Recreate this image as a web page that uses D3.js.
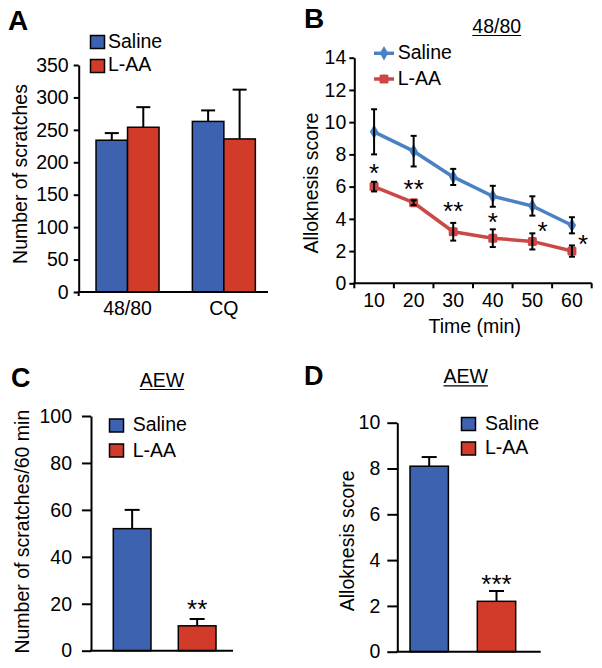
<!DOCTYPE html>
<html>
<head>
<meta charset="utf-8">
<script src="https://cdn.jsdelivr.net/npm/d3@7"></script>
<style>
  html, body { margin: 0; padding: 0; background: #fff; }
  svg { display: block; font-family: "Liberation Sans", Arial, sans-serif; }
  text { fill: #000; }
</style>
</head>
<body>
<svg id="chart" width="602" height="668"></svg>
<script>
// ---------- DATA ----------
const seriesNames = ["Saline", "L-AA"];

// Panel A
const aCategories = ["48/80", "CQ"];
const aSaline = [234, 263];
const aSalineErr = [11, 17];
const aLAA = [254, 236];
const aLAAErr = [31, 76];
const aTicks = [0, 50, 100, 150, 200, 250, 300, 350];

// Panel B
const bTimes = ["10", "20", "30", "40", "50", "60"];
const bSaline = [9.4, 8.2, 6.6, 5.4, 4.8, 3.6];
const bSalineErr = [1.4, 0.95, 0.5, 0.65, 0.6, 0.5];
const bLAA = [6.0, 5.0, 3.2, 2.8, 2.6, 2.0];
const bLAAErr = [0.3, 0.15, 0.55, 0.55, 0.5, 0.35];
const bSig = ["*", "**", "**", "*", "*", "*"];
const bSigAt = [7.2, 6.2, 4.85, 4.15, 3.6, 2.8];
const bTicks = [0, 2, 4, 6, 8, 10, 12, 14];

// Panel C
const cValues = [52, 10.6];
const cErr = [8, 2.9];
const cSig = ["", "**"];
const cTicks = [0, 20, 40, 60, 80, 100];

// Panel D
const dValues = [8.1, 2.2];
const dErr = [0.4, 0.45];
const dSig = ["", "***"];
const dTicks = [0, 2, 4, 6, 8, 10];

// ---------- STYLE ----------
const BAR_BLUE = "#3d62b0";
const BAR_RED = "#d23b2a";
const LINE_BLUE = "#4a80c4";
const LINE_RED = "#cc4846";
const FS = 19.5;
const SIG_FS = 26;

const svg = d3.select("#chart");

function panelLetter(t, x, y, size) {
  svg.append("text").attr("x", x).attr("y", y).attr("font-size", size)
    .attr("font-weight", "bold").text(t);
}
function underlinedTitle(t, cx, y) {
  const tx = svg.append("text").attr("x", cx).attr("y", y).attr("text-anchor", "middle")
    .attr("font-size", FS).text(t);
  const w = tx.node().getComputedTextLength();
  svg.append("line").attr("x1", cx - w / 2).attr("x2", cx + w / 2)
    .attr("y1", y + 2.5).attr("y2", y + 2.5).attr("stroke", "#000").attr("stroke-width", 1.2);
}
function yTitle(t, x, cy) {
  svg.append("text").attr("transform", `translate(${x},${cy}) rotate(-90)`)
    .attr("text-anchor", "middle").attr("font-size", FS).text(t);
}
function sigText(t, x, cy) {
  svg.append("text").attr("x", x).attr("y", cy + 0.56 * SIG_FS).attr("text-anchor", "middle")
    .attr("font-size", SIG_FS).text(t);
}
function styleAxis(g, fs) {
  g.selectAll("path.domain").attr("stroke", "#000").attr("stroke-width", 2);
  g.selectAll(".tick line").attr("stroke", "#000").attr("stroke-width", 2);
  g.selectAll(".tick text").attr("font-size", fs).attr("fill", "#000")
    .attr("font-family", "Liberation Sans, Arial, sans-serif");
}
function legendBox(x, y, color, label, tx, ty) {
  svg.append("rect").attr("x", x).attr("y", y).attr("width", 14).attr("height", 13)
    .attr("fill", color).attr("stroke", "#000").attr("stroke-width", 1.5);
  svg.append("text").attr("x", tx).attr("y", ty).attr("font-size", FS).text(label);
}
function errUp(g, x, yTop, yBase, capW) {
  g.append("line").attr("x1", x).attr("x2", x).attr("y1", yBase).attr("y2", yTop)
    .attr("stroke", "#000").attr("stroke-width", 2);
  g.append("line").attr("x1", x - capW / 2).attr("x2", x + capW / 2).attr("y1", yTop).attr("y2", yTop)
    .attr("stroke", "#000").attr("stroke-width", 2);
}

// ================= PANEL A =================
(function () {
  const y = d3.scaleLinear().domain([0, 350]).range([292, 65]);
  const x0 = d3.scaleBand().domain(aCategories).range([78.7, 272.7]).paddingInner(0.346).paddingOuter(0.18);
  const x1 = d3.scaleBand().domain(seriesNames).range([0, x0.bandwidth()]);
  const vals = [aSaline, aLAA], errs = [aSalineErr, aLAAErr], cols = [BAR_BLUE, BAR_RED];
  const g = svg.append("g");
  aCategories.forEach((c, i) => {
    seriesNames.forEach((s, j) => {
      const bx = x0(c) + x1(s);
      errUp(g, bx + x1.bandwidth() / 2, y(vals[j][i] + errs[j][i]), y(vals[j][i]), 14);
    });
  });
  aCategories.forEach((c, i) => {
    seriesNames.forEach((s, j) => {
      g.append("rect").attr("x", x0(c) + x1(s)).attr("y", y(vals[j][i]))
        .attr("width", x1.bandwidth()).attr("height", y(0) - y(vals[j][i]))
        .attr("fill", cols[j]).attr("stroke", "#000").attr("stroke-width", 1.5);
    });
  });
  const ya = svg.append("g").attr("transform", "translate(78.7,0)")
    .call(d3.axisLeft(y).tickValues(aTicks).tickSize(5).tickSizeOuter(0).tickPadding(5));
  styleAxis(ya, FS);
  svg.append("line").attr("x1", 78.7).attr("x2", 78.7).attr("y1", 292).attr("y2", 296)
    .attr("stroke", "#000").attr("stroke-width", 2);
  svg.append("line").attr("x1", 77.7).attr("x2", 268).attr("y1", 292).attr("y2", 292)
    .attr("stroke", "#000").attr("stroke-width", 2);
  aCategories.forEach(c => {
    svg.append("text").attr("x", x0(c) + x0.bandwidth() / 2).attr("y", 315)
      .attr("text-anchor", "middle").attr("font-size", FS).text(c);
  });
  yTitle("Number of scratches", 26.5, 174);
  legendBox(90.5, 35.5, BAR_BLUE, seriesNames[0], 108, 47.5);
  legendBox(90.5, 59.5, BAR_RED, seriesNames[1], 108, 71);
  panelLetter("A", 8, 30, 28);
})();

// ================= PANEL B =================
(function () {
  const y = d3.scaleLinear().domain([0, 14]).range([283.3, 57.7]);
  const x = d3.scaleBand().domain(bTimes).range([354.3, 591.7]);
  const cx = d => x(d) + x.bandwidth() / 2;
  const ya = svg.append("g").attr("transform", "translate(354.3,0)")
    .call(d3.axisLeft(y).tickValues(bTicks).tickSize(5).tickSizeOuter(0).tickPadding(3));
  styleAxis(ya, FS);
  const xa = svg.append("g");
  xa.append("line").attr("x1", 353.3).attr("x2", 591.7).attr("y1", 283.3).attr("y2", 283.3)
    .attr("stroke", "#000").attr("stroke-width", 2);
  bTimes.forEach(t => {
    xa.append("line").attr("x1", x(t) + x.bandwidth()).attr("x2", x(t) + x.bandwidth())
      .attr("y1", 283.3).attr("y2", 288.3).attr("stroke", "#000").attr("stroke-width", 2);
    xa.append("text").attr("x", cx(t)).attr("y", 307.3).attr("text-anchor", "middle")
      .attr("font-size", FS).text(t);
  });
  xa.append("line").attr("x1", 354.3).attr("x2", 354.3).attr("y1", 283.3).attr("y2", 288.3)
    .attr("stroke", "#000").attr("stroke-width", 2);

  const line = d3.line().x((d, i) => cx(bTimes[i])).y(d => y(d));
  const series = [
    { v: bSaline, e: bSalineErr, c: LINE_BLUE, m: "diamond" },
    { v: bLAA, e: bLAAErr, c: LINE_RED, m: "square" }
  ];
  series.forEach(s => {
    svg.append("path").attr("d", line(s.v)).attr("fill", "none")
      .attr("stroke", s.c).attr("stroke-width", 3.5).attr("stroke-linejoin", "round");
  });
  series.forEach(s => {
    s.v.forEach((v, i) => {
      const px = cx(bTimes[i]);
      if (s.m === "diamond") {
        svg.append("path").attr("d", d3.symbol(d3.symbolDiamond, 60)())
          .attr("transform", `translate(${px},${y(v)})`).attr("fill", s.c);
      } else {
        svg.append("rect").attr("x", px - 4.5).attr("y", y(v) - 4.5).attr("width", 9).attr("height", 9)
          .attr("rx", 1.5).attr("fill", s.c);
      }
    });
  });
  series.forEach(s => {
    s.v.forEach((v, i) => {
      const px = cx(bTimes[i]);
      const y1 = y(v + s.e[i]), y2 = y(v - s.e[i]);
      svg.append("line").attr("x1", px).attr("x2", px).attr("y1", y1).attr("y2", y2)
        .attr("stroke", "#000").attr("stroke-width", 2);
      [y1, y2].forEach(yy => svg.append("line").attr("x1", px - 3).attr("x2", px + 3)
        .attr("y1", yy).attr("y2", yy).attr("stroke", "#000").attr("stroke-width", 2));
    });
  });
  const sigShift = [0, 0, 0, 0, 0.26, 0.28];
  bSig.forEach((s, i) => {
    sigText(s, cx(bTimes[i]) + sigShift[i] * x.bandwidth(), y(bSigAt[i]));
  });
  [[53.3, 59, LINE_BLUE, "diamond", seriesNames[0]], [79, 85, LINE_RED, "square", seriesNames[1]]]
    .forEach(([ly, ty, c, m, lab]) => {
      svg.append("line").attr("x1", 374).attr("x2", 394).attr("y1", ly).attr("y2", ly)
        .attr("stroke", c).attr("stroke-width", 3.5);
      if (m === "diamond") {
        svg.append("path").attr("d", d3.symbol(d3.symbolDiamond, 60)())
          .attr("transform", `translate(384,${ly})`).attr("fill", c);
      } else {
        svg.append("rect").attr("x", 379.5).attr("y", ly - 4.5).attr("width", 9).attr("height", 9)
          .attr("rx", 1.5).attr("fill", c);
      }
      svg.append("text").attr("x", 397.7).attr("y", ty).attr("font-size", FS).text(lab);
    });
  svg.append("text").attr("x", 474.7).attr("y", 333).attr("text-anchor", "middle")
    .attr("font-size", FS).text("Time (min)");
  yTitle("Alloknesis score", 318, 183);
  underlinedTitle("48/80", 496.7, 33);
  panelLetter("B", 304, 28.3, 28);
})();

// ================= PANELS C & D =================
function simpleBars(cfg) {
  const y = d3.scaleLinear().domain(cfg.domain).range(cfg.yRange);
  const x = d3.scaleBand().domain(seriesNames).range(cfg.xRange)
    .paddingInner(cfg.pi).paddingOuter(cfg.po);
  const cols = [BAR_BLUE, BAR_RED];
  const g = svg.append("g");
  seriesNames.forEach((s, i) => {
    errUp(g, x(s) + x.bandwidth() / 2, y(cfg.values[i] + cfg.err[i]), y(cfg.values[i]), 15);
  });
  seriesNames.forEach((s, i) => {
    g.append("rect").attr("x", x(s)).attr("y", y(cfg.values[i]))
      .attr("width", x.bandwidth()).attr("height", y(0) - y(cfg.values[i]))
      .attr("fill", cols[i]).attr("stroke", "#000").attr("stroke-width", 1.5);
    if (cfg.sig[i]) {
      sigText(cfg.sig[i], x(s) + x.bandwidth() / 2, y(cfg.values[i] + cfg.err[i]) - cfg.sigGap);
    }
  });
  const ya = svg.append("g").attr("transform", `translate(${cfg.xRange[0]},0)`)
    .call(d3.axisLeft(y).tickValues(cfg.ticks).tickSize(cfg.tickSize).tickSizeOuter(0).tickPadding(cfg.tickPad));
  styleAxis(ya, FS);
  svg.append("line").attr("x1", cfg.xRange[0] - 1).attr("x2", cfg.axisEnd)
    .attr("y1", cfg.yRange[0]).attr("y2", cfg.yRange[0]).attr("stroke", "#000").attr("stroke-width", 2);
}

simpleBars({
  domain: [0, 100], yRange: [650.7, 416], xRange: [91, 238.3], pi: 0.42, po: 0.343,
  values: cValues, err: cErr, sig: cSig, ticks: cTicks, tickSize: 9, tickPad: 10, axisEnd: 233, sigGap: 16
});
yTitle("Number of scratches/60 min", 29, 531.7);
legendBox(109.5, 419, BAR_BLUE, seriesNames[0], 132.7, 431);
legendBox(109.5, 444, BAR_RED, seriesNames[1], 132.7, 456.7);
underlinedTitle("AEW", 162, 387);
panelLetter("C", 11, 386.7, 27);

simpleBars({
  domain: [0, 10], yRange: [651.7, 422.7], xRange: [397.3, 528.4], pi: 0.43, po: 0.189,
  values: dValues, err: dErr, sig: dSig, ticks: dTicks, tickSize: 10, tickPad: 7, axisEnd: 540.7, sigGap: 13
});
yTitle("Alloknesis score", 354, 540.8);
legendBox(461.5, 417.5, BAR_BLUE, seriesNames[0], 485, 430);
legendBox(461.5, 442, BAR_RED, seriesNames[1], 485, 454.3);
underlinedTitle("AEW", 465.7, 383.3);
panelLetter("D", 304, 385, 27);
</script>
</body>
</html>
